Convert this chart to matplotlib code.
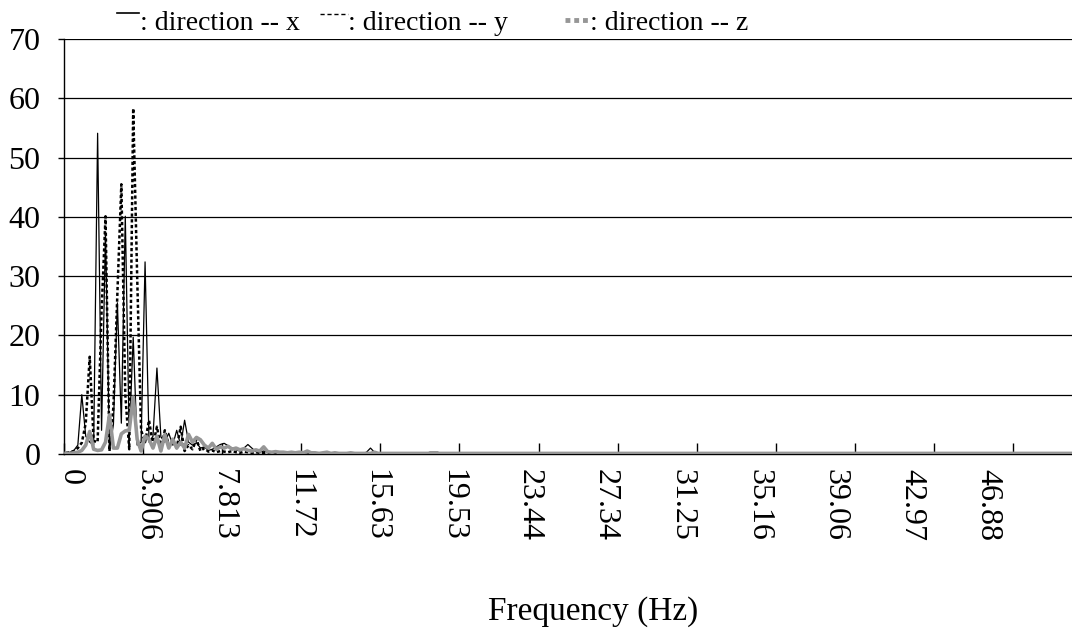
import matplotlib
matplotlib.use("Agg")
import matplotlib.pyplot as plt
from matplotlib.lines import Line2D

plt.rcParams['font.family'] = ['Liberation Serif', 'DejaVu Serif']

# FFT amplitude per frequency bin (0.1953 Hz per bin, 257 bins)
dir_x = [
    0.1, 0.3, 0.6, 1.5, 10.0, 3.0, 2.0, 1.5, 54.1, 4.0,
    37.3, 0.7, 5.0, 25.5, 5.2, 40.1, 2.5, 19.7, 1.5, 2.0,
    32.4, 2.0, 3.0, 14.5, 2.9, 2.0, 3.5, 1.5, 4.0, 1.5,
    5.7, 2.0, 1.5, 1.9, 1.0, 1.2, 0.6, 0.8, 1.2, 1.6,
    1.8, 1.4, 1.0, 0.7, 0.5, 1.0, 1.6, 1.0, 0.4, 0.3,
    0.5, 0.3, 0.4, 0.4, 0.4, 0.4, 0.2, 0.2, 0.3, 0.2,
    0.3, 0.2, 0.3, 0.2, 0.1, 0.2, 0.1, 0.2, 0.1, 0.1,
    0.2, 0.1, 0.1, 0.2, 0.1, 0.1, 0.3, 1.0, 0.3, 0.1,
    0.1, 0.2, 0.1, 0.1, 0.1, 0.1, 0.2, 0.1, 0.1, 0.1,
    0.1, 0.1, 0.3, 0.3, 0.3, 0.1, 0.1, 0.1, 0.1, 0.1,
    0.1, 0.1, 0.1, 0.1, 0.1, 0.1, 0.1, 0.1, 0.1, 0.1,
    0.1, 0.1, 0.1, 0.1, 0.1, 0.1, 0.1, 0.1, 0.1, 0.1,
    0.1, 0.1, 0.1, 0.1, 0.1, 0.1, 0.1, 0.1, 0.1, 0.1,
    0.1, 0.1, 0.1, 0.1, 0.1, 0.1, 0.1, 0.1, 0.1, 0.1,
    0.1, 0.1, 0.1, 0.1, 0.1, 0.1, 0.1, 0.1, 0.1, 0.1,
    0.1, 0.1, 0.1, 0.1, 0.1, 0.1, 0.1, 0.1, 0.1, 0.1,
    0.1, 0.1, 0.1, 0.1, 0.1, 0.1, 0.1, 0.1, 0.1, 0.1,
    0.1, 0.1, 0.1, 0.1, 0.1, 0.1, 0.1, 0.1, 0.1, 0.1,
    0.1, 0.1, 0.1, 0.1, 0.1, 0.1, 0.1, 0.1, 0.1, 0.1,
    0.1, 0.1, 0.1, 0.1, 0.1, 0.1, 0.1, 0.1, 0.1, 0.1,
    0.1, 0.1, 0.1, 0.1, 0.1, 0.1, 0.1, 0.1, 0.1, 0.1,
    0.1, 0.1, 0.1, 0.1, 0.1, 0.1, 0.1, 0.1, 0.1, 0.1,
    0.1, 0.1, 0.1, 0.1, 0.1, 0.1, 0.1, 0.1, 0.1, 0.1,
    0.1, 0.1, 0.1, 0.1, 0.1, 0.1, 0.1, 0.1, 0.1, 0.1,
    0.1, 0.1, 0.1, 0.1, 0.1, 0.1, 0.1, 0.1, 0.1, 0.1,
    0.1, 0.1, 0.1, 0.1, 0.1, 0.1, 0.1,
]

dir_y = [
    0.2, 0.3, 0.5, 1.0, 1.9, 5.2, 16.4, 2.2, 2.0, 24.0,
    40.1, 0.5, 8.0, 27.1, 45.5, 10.0, 0.8, 58.3, 30.0, 4.0,
    2.0, 5.7, 1.5, 4.6, 1.0, 4.0, 1.5, 2.0, 1.0, 4.6,
    0.5, 1.5, 0.8, 2.5, 0.5, 1.0, 0.4, 0.6, 0.3, 0.5,
    0.4, 0.3, 0.5, 0.3, 0.2, 0.4, 0.3, 0.2, 0.3, 0.2,
    0.2, 0.2, 0.2, 0.2, 0.2, 0.2, 0.1, 0.2, 0.1, 0.2,
    0.1, 0.1, 0.2, 0.1, 0.1, 0.1, 0.2, 0.1, 0.1, 0.1,
    0.1, 0.1, 0.1, 0.1, 0.1, 0.1, 0.1, 0.1, 0.1, 0.1,
    0.1, 0.1, 0.1, 0.1, 0.1, 0.1, 0.1, 0.1, 0.1, 0.1,
    0.1, 0.1, 0.1, 0.1, 0.1, 0.1, 0.1, 0.1, 0.1, 0.1,
    0.1, 0.1, 0.1, 0.1, 0.1, 0.1, 0.1, 0.1, 0.1, 0.1,
    0.1, 0.1, 0.1, 0.1, 0.1, 0.1, 0.1, 0.1, 0.1, 0.1,
    0.1, 0.1, 0.1, 0.1, 0.1, 0.1, 0.1, 0.1, 0.1, 0.1,
    0.1, 0.1, 0.1, 0.1, 0.1, 0.1, 0.1, 0.1, 0.1, 0.1,
    0.1, 0.1, 0.1, 0.1, 0.1, 0.1, 0.1, 0.1, 0.1, 0.1,
    0.1, 0.1, 0.1, 0.1, 0.1, 0.1, 0.1, 0.1, 0.1, 0.1,
    0.1, 0.1, 0.1, 0.1, 0.1, 0.1, 0.1, 0.1, 0.1, 0.1,
    0.1, 0.1, 0.1, 0.1, 0.1, 0.1, 0.1, 0.1, 0.1, 0.1,
    0.1, 0.1, 0.1, 0.1, 0.1, 0.1, 0.1, 0.1, 0.1, 0.1,
    0.1, 0.1, 0.1, 0.1, 0.1, 0.1, 0.1, 0.1, 0.1, 0.1,
    0.1, 0.1, 0.1, 0.1, 0.1, 0.1, 0.1, 0.1, 0.1, 0.1,
    0.1, 0.1, 0.1, 0.1, 0.1, 0.1, 0.1, 0.1, 0.1, 0.1,
    0.1, 0.1, 0.1, 0.1, 0.1, 0.1, 0.1, 0.1, 0.1, 0.1,
    0.1, 0.1, 0.1, 0.1, 0.1, 0.1, 0.1, 0.1, 0.1, 0.1,
    0.1, 0.1, 0.1, 0.1, 0.1, 0.1, 0.1, 0.1, 0.1, 0.1,
    0.1, 0.1, 0.1, 0.1, 0.1, 0.1, 0.1,
]

dir_z = [
    0.1, 0.1, 0.2, 0.3, 0.6, 1.5, 3.8, 0.8, 0.6, 0.7,
    2.0, 6.6, 1.0, 1.0, 3.4, 3.9, 4.0, 9.6, 2.5, 0.5,
    3.0, 2.5, 1.0, 3.0, 0.5, 3.3, 1.0, 2.5, 1.0, 2.0,
    1.0, 3.3, 2.0, 2.8, 2.4, 1.5, 1.0, 1.8, 0.8, 1.2,
    1.0, 1.3, 0.8, 1.0, 0.7, 0.9, 0.6, 0.5, 0.7, 0.5,
    1.2, 0.4, 0.3, 0.4, 0.3, 0.3, 0.2, 0.3, 0.2, 0.3,
    0.2, 0.5, 0.2, 0.2, 0.1, 0.2, 0.3, 0.1, 0.2, 0.1,
    0.1, 0.1, 0.2, 0.1, 0.1, 0.1, 0.1, 0.1, 0.3, 0.1,
    0.1, 0.1, 0.1, 0.1, 0.1, 0.1, 0.1, 0.1, 0.1, 0.1,
    0.1, 0.1, 0.1, 0.1, 0.1, 0.1, 0.1, 0.1, 0.1, 0.1,
    0.1, 0.1, 0.1, 0.1, 0.1, 0.1, 0.1, 0.1, 0.1, 0.1,
    0.1, 0.1, 0.1, 0.1, 0.1, 0.1, 0.1, 0.1, 0.1, 0.1,
    0.1, 0.1, 0.1, 0.1, 0.1, 0.1, 0.1, 0.1, 0.1, 0.1,
    0.1, 0.1, 0.1, 0.1, 0.1, 0.1, 0.1, 0.1, 0.1, 0.1,
    0.1, 0.1, 0.1, 0.1, 0.1, 0.1, 0.1, 0.1, 0.1, 0.1,
    0.1, 0.1, 0.1, 0.1, 0.1, 0.1, 0.1, 0.1, 0.1, 0.1,
    0.1, 0.1, 0.1, 0.1, 0.1, 0.1, 0.1, 0.1, 0.1, 0.1,
    0.1, 0.1, 0.1, 0.1, 0.1, 0.1, 0.1, 0.1, 0.1, 0.1,
    0.1, 0.1, 0.1, 0.1, 0.1, 0.1, 0.1, 0.1, 0.1, 0.1,
    0.1, 0.1, 0.1, 0.1, 0.1, 0.1, 0.1, 0.1, 0.1, 0.1,
    0.1, 0.1, 0.1, 0.1, 0.1, 0.1, 0.1, 0.1, 0.1, 0.1,
    0.1, 0.1, 0.1, 0.1, 0.1, 0.1, 0.1, 0.1, 0.1, 0.1,
    0.1, 0.1, 0.1, 0.1, 0.1, 0.1, 0.1, 0.1, 0.1, 0.1,
    0.1, 0.1, 0.1, 0.1, 0.1, 0.1, 0.1, 0.1, 0.1, 0.1,
    0.1, 0.1, 0.1, 0.1, 0.1, 0.1, 0.1, 0.1, 0.1, 0.1,
    0.1, 0.1, 0.1, 0.1, 0.1, 0.1, 0.1,
]

# category labels shown every 20 bins
label_pos = [0, 20, 40, 60, 80, 100, 120, 140, 160, 180, 200, 220, 240]
label_txt = ['0', '3.906', '7.813', '11.72', '15.63', '19.53', '23.44',
             '27.34', '31.25', '35.16', '39.06', '42.97', '46.88']

W, H = 1072, 631
fig = plt.figure(figsize=(W / 100, H / 100), dpi=100)
ax = fig.add_axes([64 / W, 1 - 454 / H, 1 - 64 / W, 415 / H])

idx = list(range(len(dir_x)))
ax.plot(idx, dir_x, color='black', lw=0.9, zorder=3)
ax.plot(idx, dir_y, color='black', lw=1.8, linestyle=(0, (1.3, 1.0)), zorder=4)
ax.plot(idx, dir_z, color='#969696', lw=2.6, zorder=5)

ax.set_xlim(-0.5, 254.4)
ax.set_ylim(0, 70)
ax.set_yticks(range(0, 71, 10))
ax.yaxis.grid(True, color='black', lw=0.9)
ax.set_axisbelow(True)
for s in ['top', 'right']:
    ax.spines[s].set_visible(False)
ax.spines['left'].set_linewidth(1.0)
ax.spines['bottom'].set_linewidth(1.0)
ax.tick_params(axis='y', direction='out', length=4, width=1, labelsize=23, pad=13)

# ticks at category boundaries; Excel spread the labels a bit tighter
ax.set_xticks([p - 0.5 for p in label_pos])
ax.tick_params(axis='x', direction='in', length=8, width=1, labelbottom=False)
for k, t in enumerate(label_txt):
    ax.text((6 + 76.5 * k) / 1008, -0.035, t, transform=ax.transAxes, rotation=-90,
            ha='center', va='top', fontsize=23)

fig.text(593 / W, 1 - 612 / H, 'Frequency (Hz)', ha='center', va='center', fontsize=24)

# legend row
fig.add_artist(Line2D([117 / W, 139 / W], [1 - 13 / H] * 2, color='black', lw=1.2))
fig.add_artist(Line2D([320 / W, 348 / W], [1 - 14 / H] * 2, color='black', lw=1.0,
                      linestyle=(0, (3, 2))))
fig.add_artist(Line2D([565 / W, 590 / W], [1 - 20 / H] * 2, color='#969696', lw=3.5,
                      linestyle=(0, (1, 0.8))))
for x0, t in [(140, ': direction -- x'), (348, ': direction -- y'), (590, ': direction -- z')]:
    fig.text(x0 / W, 1 - 30 / H, t, ha='left', va='baseline', fontsize=20)

fig.savefig('out.png', dpi=100)
